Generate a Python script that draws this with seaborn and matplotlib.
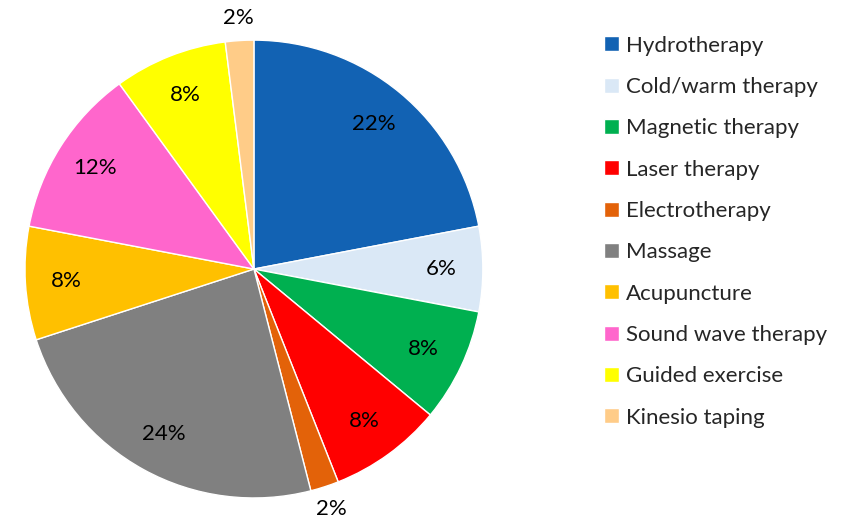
import matplotlib
matplotlib.use("Agg")
import numpy as np
import matplotlib.pyplot as plt
import seaborn as sns

sns.set_theme(style="white")
plt.rcParams["font.family"] = ["Lato", "DejaVu Sans"]

# ==================================
# DATA
# ==================================
THERAPIES = [
    "Hydrotherapy",
    "Cold/warm therapy",
    "Magnetic therapy",
    "Laser therapy",
    "Electrotherapy",
    "Massage",
    "Acupuncture",
    "Sound wave therapy",
    "Guided exercise",
    "Kinesio taping",
]

SHARES = [22, 6, 8, 8, 2, 24, 8, 12, 8, 2]

COLORS = sns.color_palette([
    "#1262B3",
    "#DAE8F6",
    "#00B050",
    "#FF0000",
    "#E36209",
    "#808080",
    "#FFC000",
    "#FF66CC",
    "#FFFF00",
    "#FFCC88",
])

# ==================================
# PLOT
# ==================================
fig = plt.figure(figsize=(8.59, 5.21), dpi=100)
ax = fig.add_axes([0.0291, 0.0441, 0.533, 0.879])

wedges, texts = ax.pie(
    SHARES,
    colors=COLORS,
    startangle=90,
    counterclock=False,
    radius=1,
)

# percentage labels: small slices get theirs outside the pie
total = sum(SHARES)
for w, v in zip(wedges, SHARES):
    ang = np.deg2rad((w.theta1 + w.theta2) / 2)
    r = 1.1 if v / total < 0.03 else 0.82
    ax.text(
        r * np.cos(ang),
        r * np.sin(ang),
        f"{v}%",
        ha="center",
        va="center",
        fontsize=16,
        color="black",
    )

ax.set_xlim(-1, 1)
ax.set_ylim(-1, 1)
ax.set_aspect("equal")
ax.axis("off")

fig.legend(
    wedges,
    THERAPIES,
    loc="upper left",
    bbox_to_anchor=(0.68, 0.97),
    frameon=False,
    fontsize=16,
    handlelength=0.68,
    handleheight=0.68,
    handletextpad=0.32,
    labelspacing=0.96,
)

fig.savefig("out.png", dpi=100)
